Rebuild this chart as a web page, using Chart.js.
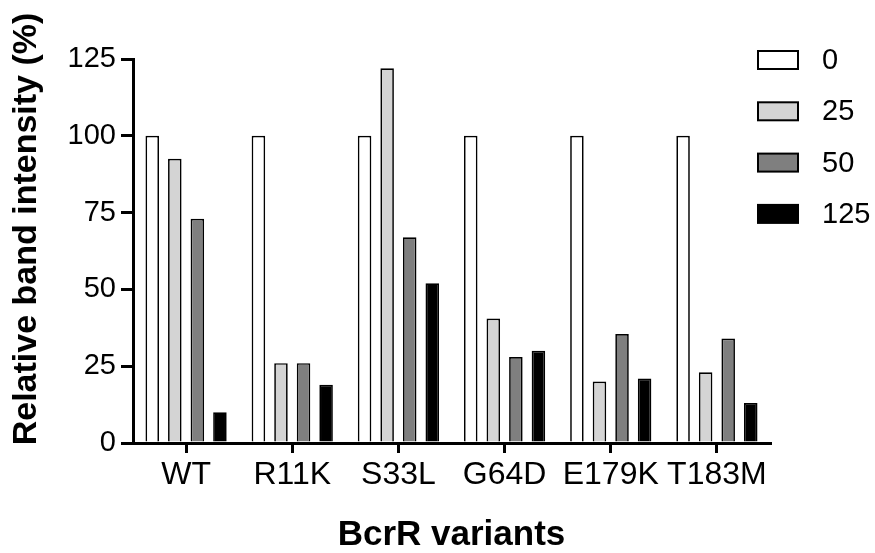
<!DOCTYPE html>
<html>
<head>
<meta charset="utf-8">
<script src="https://cdn.jsdelivr.net/npm/chart.js@4/dist/chart.umd.min.js"></script>
<style>
    html, body { margin: 0; padding: 0; background: #fff; }
    #grafico { display: block; }
</style>
</head>
<body>
<canvas id="grafico" width="875" height="553"></canvas>
<script>
// Datos
const variantes = ['WT', 'R11K', 'S33L', 'G64D', 'E179K', 'T183M'];
const concentraciones = ['0', '25', '50', '125'];
const serie0 = [100, 100, 100, 100, 100, 100];
const serie25 = [92.5, 26, 122, 40.5, 20, 23];
const serie50 = [73, 26, 67, 28, 35.5, 34];
const serie125 = [10, 19, 52, 30, 21, 13];
const ticksY = [0, 25, 50, 75, 100, 125];

const colores = ['#ffffff', '#d4d4d4', '#7f7f7f', '#000000'];
const fuente = "'Liberation Sans', Arial, Helvetica, sans-serif";

// Leyenda y título del eje Y dibujados a mano
const leyendaPlugin = {
    id: 'leyendaManual',
    afterDraw(chart) {
        const ctx = chart.ctx;
        const area = chart.chartArea;
        ctx.save();
        chart.data.datasets.forEach((ds, i) => {
            const x = area.right - 12;
            const y = 51 + i * 51.3;
            ctx.fillStyle = ds.backgroundColor;
            ctx.fillRect(x, y, 40, 18);
            ctx.lineWidth = 2;
            ctx.strokeStyle = '#000';
            ctx.strokeRect(x, y, 40, 18);
            ctx.fillStyle = '#000';
            ctx.font = '29px ' + fuente;
            ctx.textAlign = 'left';
            ctx.textBaseline = 'middle';
            ctx.fillText(ds.label, x + 64, y + 10);
        });
        ctx.translate(27, 229);
        ctx.rotate(-Math.PI / 2);
        ctx.font = 'bold 34px ' + fuente;
        ctx.textAlign = 'center';
        ctx.textBaseline = 'middle';
        ctx.fillStyle = '#000';
        ctx.fillText('Relative band intensity (%)', 0, 0);
        ctx.restore();
    }
};

const series = [serie0, serie25, serie50, serie125];

new Chart(document.getElementById('grafico').getContext('2d'), {
    type: 'bar',
    data: {
        labels: variantes,
        datasets: series.map((valores, i) => ({
            label: concentraciones[i],
            data: valores,
            backgroundColor: colores[i],
            borderColor: '#000',
            borderWidth: 1.7,
            categoryPercentage: 0.85,
            barPercentage: 0.6
        }))
    },
    options: {
        responsive: false,
        animation: false,
        layout: { padding: { top: 59, right: 105, left: 0, bottom: 0 } },
        plugins: {
            legend: { display: false },
            tooltip: { enabled: false }
        },
        scales: {
            x: {
                afterFit: (s) => { s.height = 110; },
                grid: { display: true, drawOnChartArea: false, offset: false, tickLength: 10, lineWidth: 3, color: '#000' },
                border: { display: true, width: 3, color: '#000' },
                ticks: { color: '#000', font: { size: 32, family: fuente }, padding: 3, maxRotation: 0 },
                title: {
                    display: true,
                    text: 'BcrR variants',
                    color: '#000',
                    font: { size: 35, weight: 'bold', family: fuente, lineHeight: 1 },
                    padding: { top: 0, bottom: 0 }
                }
            },
            y: {
                min: 0,
                max: 125,
                afterFit: (s) => { s.width = 133; },
                afterBuildTicks: (s) => { s.ticks = ticksY.map(v => ({ value: v })); },
                grid: { display: true, drawOnChartArea: false, tickLength: 12, lineWidth: 3, color: '#000' },
                border: { display: true, width: 3, color: '#000' },
                ticks: { color: '#000', font: { size: 29, family: fuente }, padding: 5 }
            }
        }
    },
    plugins: [leyendaPlugin]
});
</script>
</body>
</html>
